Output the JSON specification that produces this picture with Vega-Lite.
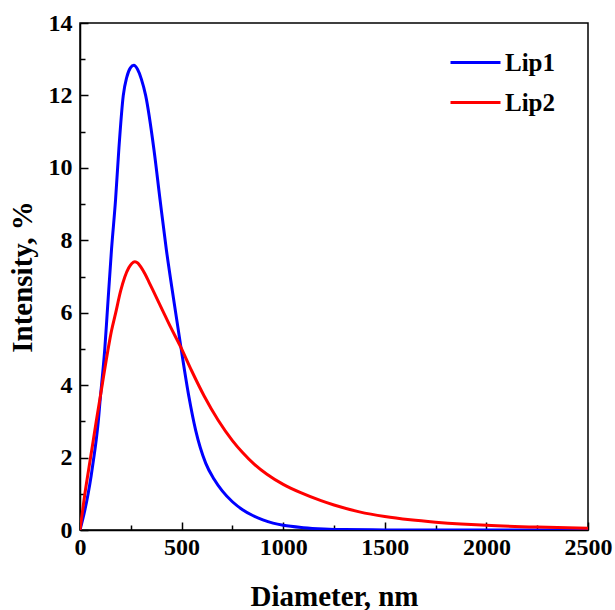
{
  "$schema": "https://vega.github.io/schema/vega-lite/v6.json",
  "width": 508,
  "height": 507,
  "autosize": {"type": "none"},
  "padding": {"left": 80, "top": 23, "right": 27, "bottom": 80},
  "background": "white",
  "config": {
    "font": "Liberation Serif",
    "view": {"stroke": "black", "strokeWidth": 1.5},
    "axis": {
      "labelFont": "Liberation Serif",
      "labelFontWeight": "bold",
      "labelFontSize": 24,
      "labelColor": "black",
      "titleFont": "Liberation Serif",
      "titleFontWeight": "bold",
      "titleFontSize": 29,
      "titleColor": "black",
      "domainColor": "black",
      "domainWidth": 1.5,
      "tickColor": "black",
      "tickWidth": 1.5,
      "grid": false,
      "labelFlush": false,
      "labelOverlap": false
    },
    "legend": {
      "labelFont": "Liberation Serif",
      "labelFontWeight": "bold",
      "labelFontSize": 25,
      "labelColor": "black"
    }
  },
  "data": {
    "values": [
      {"d": 0, "v": 0, "s": "Lip1"},
      {"d": 20, "v": 0.45, "s": "Lip1"},
      {"d": 40, "v": 1.0, "s": "Lip1"},
      {"d": 55, "v": 1.5, "s": "Lip1"},
      {"d": 68, "v": 2.0, "s": "Lip1"},
      {"d": 80, "v": 2.5, "s": "Lip1"},
      {"d": 90, "v": 3.0, "s": "Lip1"},
      {"d": 100, "v": 3.65, "s": "Lip1"},
      {"d": 106, "v": 4.0, "s": "Lip1"},
      {"d": 122, "v": 5.0, "s": "Lip1"},
      {"d": 134, "v": 6.0, "s": "Lip1"},
      {"d": 155, "v": 7.74, "s": "Lip1"},
      {"d": 175, "v": 9.12, "s": "Lip1"},
      {"d": 191, "v": 10.5, "s": "Lip1"},
      {"d": 213, "v": 12.0, "s": "Lip1"},
      {"d": 230, "v": 12.5, "s": "Lip1"},
      {"d": 248, "v": 12.76, "s": "Lip1"},
      {"d": 265, "v": 12.83, "s": "Lip1"},
      {"d": 283, "v": 12.72, "s": "Lip1"},
      {"d": 302, "v": 12.45, "s": "Lip1"},
      {"d": 323, "v": 12.0, "s": "Lip1"},
      {"d": 364, "v": 10.5, "s": "Lip1"},
      {"d": 394, "v": 9.12, "s": "Lip1"},
      {"d": 425, "v": 7.74, "s": "Lip1"},
      {"d": 460, "v": 6.4, "s": "Lip1"},
      {"d": 496, "v": 5.07, "s": "Lip1"},
      {"d": 536, "v": 3.68, "s": "Lip1"},
      {"d": 569, "v": 2.76, "s": "Lip1"},
      {"d": 619, "v": 1.84, "s": "Lip1"},
      {"d": 660, "v": 1.4, "s": "Lip1"},
      {"d": 700, "v": 1.08, "s": "Lip1"},
      {"d": 750, "v": 0.78, "s": "Lip1"},
      {"d": 800, "v": 0.56, "s": "Lip1"},
      {"d": 850, "v": 0.4, "s": "Lip1"},
      {"d": 900, "v": 0.28, "s": "Lip1"},
      {"d": 950, "v": 0.19, "s": "Lip1"},
      {"d": 1000, "v": 0.13, "s": "Lip1"},
      {"d": 1100, "v": 0.065, "s": "Lip1"},
      {"d": 1200, "v": 0.03, "s": "Lip1"},
      {"d": 1300, "v": 0.012, "s": "Lip1"},
      {"d": 1500, "v": 0.003, "s": "Lip1"},
      {"d": 2000, "v": 0, "s": "Lip1"},
      {"d": 2500, "v": 0, "s": "Lip1"},
      {"d": 0, "v": 0, "s": "Lip2"},
      {"d": 24, "v": 1.0, "s": "Lip2"},
      {"d": 52, "v": 2.0, "s": "Lip2"},
      {"d": 80, "v": 3.0, "s": "Lip2"},
      {"d": 109, "v": 4.0, "s": "Lip2"},
      {"d": 137, "v": 4.95, "s": "Lip2"},
      {"d": 155, "v": 5.5, "s": "Lip2"},
      {"d": 175, "v": 5.98, "s": "Lip2"},
      {"d": 200, "v": 6.6, "s": "Lip2"},
      {"d": 220, "v": 6.98, "s": "Lip2"},
      {"d": 240, "v": 7.24, "s": "Lip2"},
      {"d": 255, "v": 7.36, "s": "Lip2"},
      {"d": 270, "v": 7.41, "s": "Lip2"},
      {"d": 285, "v": 7.37, "s": "Lip2"},
      {"d": 300, "v": 7.26, "s": "Lip2"},
      {"d": 320, "v": 7.07, "s": "Lip2"},
      {"d": 340, "v": 6.84, "s": "Lip2"},
      {"d": 364, "v": 6.56, "s": "Lip2"},
      {"d": 405, "v": 6.08, "s": "Lip2"},
      {"d": 446, "v": 5.6, "s": "Lip2"},
      {"d": 496, "v": 5.05, "s": "Lip2"},
      {"d": 550, "v": 4.39, "s": "Lip2"},
      {"d": 611, "v": 3.7, "s": "Lip2"},
      {"d": 680, "v": 3.03, "s": "Lip2"},
      {"d": 750, "v": 2.47, "s": "Lip2"},
      {"d": 800, "v": 2.14, "s": "Lip2"},
      {"d": 857, "v": 1.82, "s": "Lip2"},
      {"d": 920, "v": 1.54, "s": "Lip2"},
      {"d": 1000, "v": 1.26, "s": "Lip2"},
      {"d": 1086, "v": 1.03, "s": "Lip2"},
      {"d": 1186, "v": 0.81, "s": "Lip2"},
      {"d": 1250, "v": 0.69, "s": "Lip2"},
      {"d": 1375, "v": 0.5, "s": "Lip2"},
      {"d": 1500, "v": 0.37, "s": "Lip2"},
      {"d": 1625, "v": 0.28, "s": "Lip2"},
      {"d": 1750, "v": 0.215, "s": "Lip2"},
      {"d": 1875, "v": 0.165, "s": "Lip2"},
      {"d": 2000, "v": 0.128, "s": "Lip2"},
      {"d": 2250, "v": 0.08, "s": "Lip2"},
      {"d": 2500, "v": 0.05, "s": "Lip2"}
    ]
  },
  "mark": {"type": "line", "strokeWidth": 3, "interpolate": "monotone", "clip": true},
  "encoding": {
    "x": {
      "field": "d",
      "type": "quantitative",
      "scale": {"domain": [0, 2500], "nice": false, "zero": false},
      "axis": {
        "title": "Diameter, nm",
        "values": [0, 250, 500, 750, 1000, 1250, 1500, 1750, 2000, 2250, 2500],
        "labelExpr": "datum.value % 500 === 0 ? datum.label : ''",
        "format": "d",
        "tickSize": {"condition": {"test": "datum.value % 500 === 0", "value": -8}, "value": -5},
        "labelPadding": 13,
        "titlePadding": 20
      }
    },
    "y": {
      "field": "v",
      "type": "quantitative",
      "scale": {"domain": [0, 14], "nice": false},
      "axis": {
        "title": "Intensity, %",
        "values": [0, 1, 2, 3, 4, 5, 6, 7, 8, 9, 10, 11, 12, 13, 14],
        "labelExpr": "datum.value % 2 === 0 ? datum.label : ''",
        "tickSize": {"condition": {"test": "datum.value % 2 === 0", "value": -8}, "value": -5},
        "labelPadding": 16,
        "titlePadding": 11
      }
    },
    "color": {
      "field": "s",
      "type": "nominal",
      "scale": {"domain": ["Lip1", "Lip2"], "range": ["#0000ff", "#ff0000"]},
      "legend": {
        "title": null,
        "orient": "none",
        "legendX": 369,
        "legendY": 13,
        "symbolType": "stroke",
        "symbolSize": 2500,
        "symbolStrokeWidth": 3,
        "rowPadding": -19,
        "labelOffset": 3
      }
    }
  }
}
